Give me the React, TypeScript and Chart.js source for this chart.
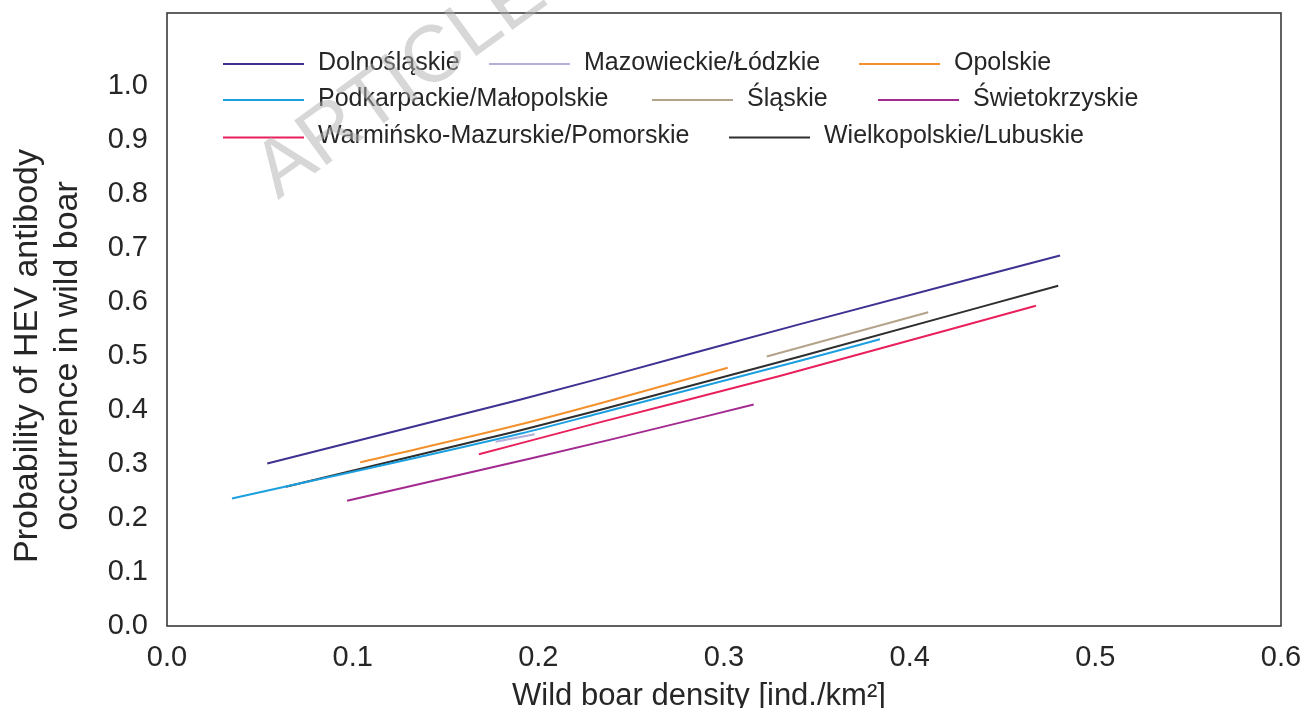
import { useEffect, useRef } from "react";
import { Chart, registerables } from "chart.js";

Chart.register(...registerables);

// ---------- data ----------
const SERIES_NAMES = [
  "Dolnośląskie",
  "Mazowieckie/Łódzkie",
  "Opolskie",
  "Podkarpackie/Małopolskie",
  "Śląskie",
  "Świetokrzyskie",
  "Warmińsko-Mazurskie/Pomorskie",
  "Wielkopolskie/Lubuskie",
];

const SERIES_COLORS = [
  "#3d3192",
  "#b4aedb",
  "#f3902c",
  "#1c9fe0",
  "#b3a38a",
  "#a32a90",
  "#e8205b",
  "#2e2e2e",
];

// wild boar density (x) and probability (y) for each region
const DOLNOSLASKIE_X = [0.054, 0.19, 0.233, 0.341, 0.481];
const DOLNOSLASKIE_Y = [0.301, 0.419, 0.458, 0.559, 0.686];

const MAZOWIECKIE_X = [0.177, 0.198];
const MAZOWIECKIE_Y = [0.341, 0.355];

const OPOLSKIE_X = [0.104, 0.19, 0.233, 0.302];
const OPOLSKIE_Y = [0.303, 0.373, 0.412, 0.478];

const PODKARPACKIE_X = [0.035, 0.19, 0.233, 0.341, 0.384];
const PODKARPACKIE_Y = [0.236, 0.356, 0.394, 0.491, 0.531];

const SLASKIE_X = [0.323, 0.41];
const SLASKIE_Y = [0.499, 0.581];

const SWIETOKRZYSKIE_X = [0.097, 0.197, 0.24, 0.316];
const SWIETOKRZYSKIE_Y = [0.232, 0.311, 0.346, 0.41];

const WARMINSKO_X = [0.168, 0.233, 0.33, 0.468];
const WARMINSKO_Y = [0.318, 0.377, 0.463, 0.593];

const WIELKOPOLSKIE_X = [0.064, 0.19, 0.233, 0.341, 0.48];
const WIELKOPOLSKIE_Y = [0.258, 0.362, 0.4, 0.499, 0.63];

const SERIES_X = [
  DOLNOSLASKIE_X,
  MAZOWIECKIE_X,
  OPOLSKIE_X,
  PODKARPACKIE_X,
  SLASKIE_X,
  SWIETOKRZYSKIE_X,
  WARMINSKO_X,
  WIELKOPOLSKIE_X,
];
const SERIES_Y = [
  DOLNOSLASKIE_Y,
  MAZOWIECKIE_Y,
  OPOLSKIE_Y,
  PODKARPACKIE_Y,
  SLASKIE_Y,
  SWIETOKRZYSKIE_Y,
  WARMINSKO_Y,
  WIELKOPOLSKIE_Y,
];

const X_TICKS = [0, 0.1, 0.2, 0.3, 0.4, 0.5, 0.6];
const Y_TICKS = [0, 0.1, 0.2, 0.3, 0.4, 0.5, 0.6, 0.7, 0.8, 0.9, 1.0];

const X_TITLE = "Wild boar density [ind./km²]";
const Y_TITLE = ["Probability of HEV antibody", "occurrence in wild boar"];
const WATERMARK = "ARTICLE";

// ---------- layout ----------
const FONT = "'Liberation Sans', Arial, Helvetica, sans-serif";
const TEXT_COLOR = "#262626";
// legend slot: [line start x, line y] relative to chart area top-left
const LEGEND_SLOTS = [
  [56, 51],
  [322, 51],
  [692, 51],
  [56, 87],
  [485, 87],
  [711, 87],
  [56, 124.5],
  [562, 124.5],
];

const framePlugin = {
  id: "frame",
  beforeDatasetsDraw(chart: any) {
    const { ctx, chartArea: a } = chart;
    ctx.save();
    ctx.strokeStyle = "#3a3a3a";
    ctx.lineWidth = 1.6;
    ctx.strokeRect(a.left, a.top, a.right - a.left, a.bottom - a.top);
    ctx.restore();
  },
};

const legendPlugin = {
  id: "inlineLegend",
  afterDatasetsDraw(chart: any) {
    const { ctx, chartArea: a } = chart;
    ctx.save();
    ctx.font = `25px ${FONT}`;
    ctx.textBaseline = "middle";
    ctx.textAlign = "left";
    chart.data.datasets.forEach((ds: any, i: number) => {
      const [sx, sy] = LEGEND_SLOTS[i];
      const x = a.left + sx;
      const y = a.top + sy;
      ctx.strokeStyle = ds.borderColor;
      ctx.lineWidth = 2;
      ctx.beginPath();
      ctx.moveTo(x, y);
      ctx.lineTo(x + 81, y);
      ctx.stroke();
      ctx.fillStyle = TEXT_COLOR;
      ctx.fillText(ds.label, x + 95, y - 1);
    });
    ctx.restore();
  },
};

const titlesPlugin = {
  id: "axisTitles",
  afterDraw(chart: any) {
    const { ctx } = chart;
    ctx.save();
    ctx.fillStyle = TEXT_COLOR;
    // x title
    ctx.font = `31px ${FONT}`;
    ctx.textAlign = "left";
    ctx.textBaseline = "alphabetic";
    ctx.fillText(X_TITLE, 512, 705);
    // y title
    ctx.font = `34px ${FONT}`;
    ctx.textAlign = "center";
    ctx.textBaseline = "alphabetic";
    ctx.translate(0, 356);
    ctx.rotate(-Math.PI / 2);
    ctx.fillText(Y_TITLE[0], 0, 36.7);
    ctx.fillText(Y_TITLE[1], 0, 76.7);
    ctx.restore();
  },
};

const watermarkPlugin = {
  id: "watermark",
  afterDraw(chart: any) {
    const { ctx } = chart;
    ctx.save();
    ctx.translate(278, 200);
    ctx.rotate((-36 * Math.PI) / 180);
    ctx.font = `80px ${FONT}`;
    ctx.fillStyle = "rgba(175,175,175,0.5)";
    ctx.textAlign = "left";
    ctx.textBaseline = "alphabetic";
    ctx.fillText(WATERMARK, 0, 0);
    ctx.restore();
  },
};

export default function App() {
  const canvasRef = useRef<HTMLCanvasElement | null>(null);

  useEffect(() => {
    if (!canvasRef.current) return;
    const datasets = SERIES_NAMES.map((name, i) => ({
      label: name,
      data: SERIES_X[i].map((x, j) => ({ x, y: SERIES_Y[i][j] })),
      borderColor: SERIES_COLORS[i],
      backgroundColor: SERIES_COLORS[i],
      borderWidth: 2,
      showLine: true,
      pointRadius: 0,
      pointHoverRadius: 0,
      cubicInterpolationMode: "monotone" as const,
      fill: false,
    }));

    const chart = new Chart(canvasRef.current, {
      type: "scatter",
      data: { datasets },
      options: {
        animation: false,
        responsive: false,
        devicePixelRatio: 1,
        layout: { padding: { left: 0, right: 24, top: 13, bottom: 0 } },
        plugins: {
          legend: { display: false },
          tooltip: { enabled: false },
        },
        scales: {
          x: {
            type: "linear",
            min: 0,
            max: 0.6,
            grid: { display: false, drawTicks: false },
            border: { display: false },
            afterBuildTicks: (scale: any) => {
              scale.ticks = X_TICKS.map((v) => ({ value: v }));
            },
            afterFit: (scale: any) => {
              scale.height = 82;
              scale.paddingLeft = 0;
              scale.paddingRight = 0;
            },
            ticks: {
              padding: 15,
              color: TEXT_COLOR,
              font: { family: FONT, size: 29 },
              maxRotation: 0,
              autoSkip: false,
              callback: (v: any) => Number(v).toFixed(1),
            },
          },
          y: {
            type: "linear",
            min: 0,
            max: 1.135,
            grid: { display: false, drawTicks: false },
            border: { display: false },
            afterBuildTicks: (scale: any) => {
              scale.ticks = Y_TICKS.map((v) => ({ value: v }));
            },
            afterFit: (scale: any) => {
              scale.width = 167;
              scale.paddingTop = 0;
              scale.paddingBottom = 0;
            },
            ticks: {
              padding: 19,
              color: TEXT_COLOR,
              font: { family: FONT, size: 29 },
              autoSkip: false,
              callback: (v: any) => Number(v).toFixed(1),
            },
          },
        },
      },
      plugins: [framePlugin, legendPlugin, titlesPlugin, watermarkPlugin],
    });

    return () => chart.destroy();
  }, []);

  return (
    <canvas
      ref={canvasRef}
      width={1305}
      height={708}
      style={{ position: "absolute", left: 0, top: 0, display: "block" }}
    />
  );
}
